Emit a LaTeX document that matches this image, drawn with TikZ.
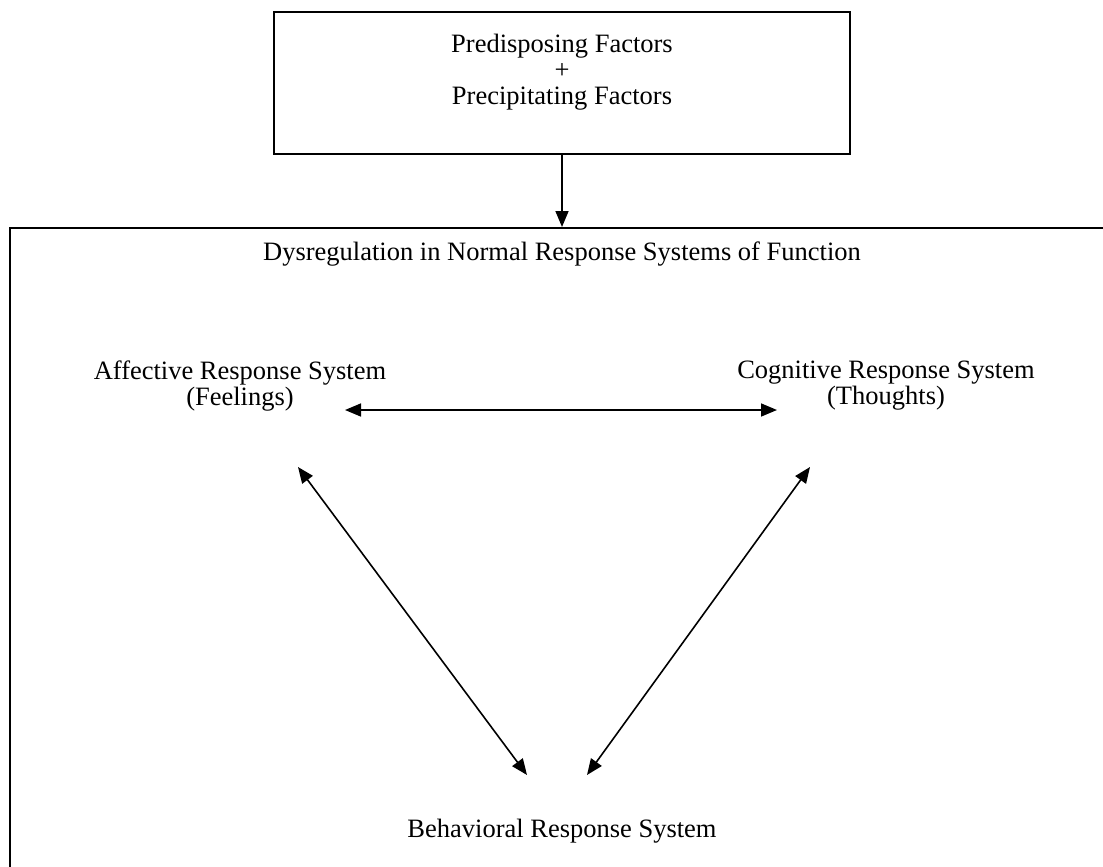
\documentclass[tikz,border=0pt]{standalone}
\usepackage{fontspec}
\setmainfont{Liberation Serif}
\usetikzlibrary{arrows.meta}
\tikzset{
  box/.style={draw, line width=2pt, inner sep=0pt},
  lbl/.style={align=center, font=\fontsize{26.5}{26}\selectfont, inner sep=0pt},
  arr/.style={line width=1.6pt, -{Triangle[length=16pt,width=13pt]}},
  darr/.style={line width=1.6pt, {Triangle[length=16pt,width=13pt]}-{Triangle[length=16pt,width=13pt]}}
}
\begin{document}
\begin{tikzpicture}[x=1pt,y=-1pt]
\useasboundingbox (0,0) rectangle (1103,867);
\node[box, minimum width=576pt, minimum height=142pt, anchor=north west] (top) at (273,11) {};
\node[lbl] (toptext) at (562,72) {Predisposing Factors\\+\\Precipitating Factors};
\node[box, minimum width=1110pt, minimum height=680pt, anchor=north west] (dys) at (9,227) {};
\node[lbl] (dystext) at (562,254) {Dysregulation in Normal Response Systems of Function};
\node[lbl] (aff) at (240,386) {Affective Response System\\(Feelings)};
\node[lbl] (cog) at (886,386) {Cognitive Response System\\(Thoughts)};
\node[lbl] (beh) at (562,831) {Behavioral Response System};
\coordinate (h1) at (345,410);
\coordinate (h2) at (777,410);
\coordinate (l1) at (298,467);
\coordinate (l2) at (527,775);
\coordinate (r1) at (810,467);
\coordinate (r2) at (587,775);
\draw[arr] (top.south -| toptext) -- (toptext |- dys.north);
\draw[darr] (h1) -- (h2);
\draw[darr] (l1) -- (l2);
\draw[darr] (r1) -- (r2);
\end{tikzpicture}
\end{document}
